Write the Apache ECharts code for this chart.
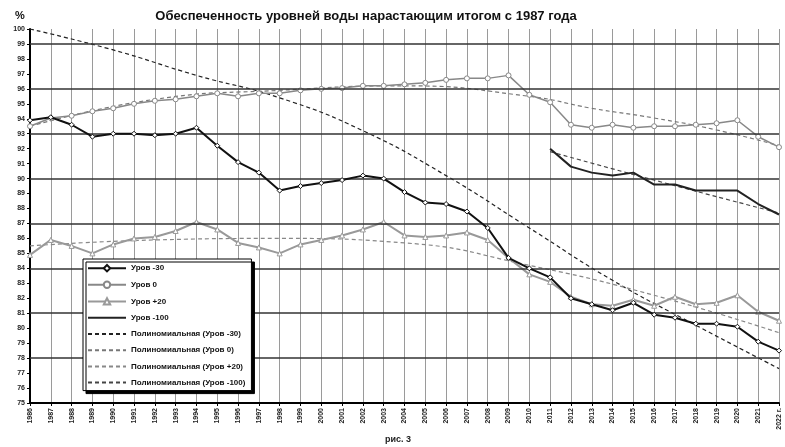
<!DOCTYPE html>
<html>
<head>
<meta charset="utf-8">
<script src="https://cdn.jsdelivr.net/npm/echarts@6/dist/echarts.min.js"></script>
<style>
  html, body { margin: 0; padding: 0; background: #fff; }
  #chart { width: 785px; height: 447px; }
</style>
</head>
<body>
<div id="chart"></div>
<script>
// years on x axis
var years = ['1986','1987','1988','1989','1990','1991','1992','1993','1994','1995',
  '1996','1997','1998','1999','2000','2001','2002','2003','2004','2005','2006',
  '2007','2008','2009','2010','2011','2012','2013','2014','2015','2016','2017',
  '2018','2019','2020','2021','2022'];

// series values, %
var lvlMinus30 = [93.9, 94.1, 93.6, 92.8, 93.0, 93.0, 92.9, 93.0, 93.4, 92.2,
  91.1, 90.4, 89.2, 89.5, 89.7, 89.9, 90.2, 90.0, 89.1, 88.4, 88.3,
  87.8, 86.7, 84.7, 84.0, 83.4, 82.0, 81.6, 81.2, 81.7, 80.9, 80.7,
  80.3, 80.3, 80.1, 79.1, 78.5];
var lvl0 = [93.5, 94.05, 94.2, 94.5, 94.7, 95.0, 95.2, 95.3, 95.5, 95.7,
  95.5, 95.7, 95.7, 95.9, 96.0, 96.05, 96.2, 96.2, 96.3, 96.4, 96.6,
  96.7, 96.7, 96.9, 95.6, 95.1, 93.6, 93.4, 93.6, 93.4, 93.5, 93.5,
  93.6, 93.7, 93.9, 92.8, 92.1];
var lvlPlus20 = [84.9, 85.9, 85.5, 85.0, 85.6, 86.0, 86.1, 86.5, 87.1, 86.6,
  85.7, 85.4, 85.0, 85.6, 85.9, 86.2, 86.6, 87.1, 86.2, 86.1, 86.2,
  86.4, 85.9, 84.7, 83.6, 83.1, 82.1, 81.6, 81.5, 81.9, 81.5, 82.1,
  81.6, 81.7, 82.2, 81.1, 80.5];
var lvlMinus100Years = ['2011','2012','2013','2014','2015','2016','2017','2018','2019','2020','2021','2022'];
var lvlMinus100 = [92.0, 90.8, 90.4, 90.2, 90.4, 89.6, 89.6, 89.2, 89.2, 89.2, 88.3, 87.6];

// trend lines at some years
var trendMinus30Years = ['1986','1990','1994','1998','2002','2006','2010','2014','2018','2022'];
var trendMinus30 = [100.0, 98.6, 96.9, 95.4, 93.2, 90.2, 86.7, 83.2, 80.2, 77.3];
var trend0Years = ['1986','1992','1998','2004','2010','2013','2016','2019','2022'];
var trend0 = [93.5, 95.3, 95.9, 96.2, 95.5, 94.7, 94.05, 93.25, 92.2];
var trendPlus20Years = ['1986','1992','1998','2004','2010','2016','2022'];
var trendPlus20 = [85.5, 85.9, 86.0, 85.7, 84.2, 82.2, 79.7];
var trendMinus100Years = ['2011','2016','2022'];
var trendMinus100 = [91.8, 89.9, 87.7];

// heavy horizontal grid lines
var majorLines = [78, 81, 84, 87, 90, 93, 96, 99];

var names = ['Уров -30', 'Уров 0', 'Уров +20', 'Уров -100',
  'Полиномиальная (Уров -30)', 'Полиномиальная (Уров 0)',
  'Полиномиальная (Уров +20)', 'Полиномиальная (Уров -100)'];

function pairs(xs, ys) {
  return xs.map(function (x, i) { return [x, ys[i]]; });
}

var chart = echarts.init(document.getElementById('chart'));
var font = 'Liberation Sans, Arial, sans-serif';

// legend rows: series without markers get a plain line icon
var legendData = names.map(function (n, i) {
  return i < 3 ? n : { name: n, itemStyle: { opacity: 0 } };
});

chart.setOption({
  animation: false,
  backgroundColor: '#fff',
  title: [
    { text: 'Обеспеченность уровней воды нарастающим итогом с 1987 года', left: 361, textAlign: 'center', top: 5,
      textStyle: { fontFamily: font, fontSize: 13, fontWeight: 'bold', color: '#111' } },
    { text: '%', left: 10, top: 5, textStyle: { fontFamily: font, fontSize: 11, fontWeight: 'bold', color: '#111' } },
    { text: 'рис. 3', left: 380, top: 430, textStyle: { fontFamily: font, fontSize: 9, fontWeight: 'bold', color: '#222' } }
  ],
  legend: {
    orient: 'vertical',
    z: 20,
    left: 83, top: 259,
    itemWidth: 38, itemHeight: 8, itemGap: 8.2,
    padding: [5, 6, 4, 4],
    backgroundColor: '#fff',
    borderColor: '#000', borderWidth: 1,
    shadowColor: '#000', shadowBlur: 0, shadowOffsetX: 3, shadowOffsetY: 3,
    textStyle: { fontFamily: font, fontSize: 8, fontWeight: 'bold', color: '#111' },
    data: legendData
  },
  grid: { left: 30, right: 6, top: 29, bottom: 44 },
  xAxis: {
    type: 'category',
    data: years,
    boundaryGap: false,
    axisLine: { lineStyle: { color: '#000', width: 2 } },
    axisTick: { show: true, alignWithLabel: true, length: 3, lineStyle: { color: '#000' } },
    axisLabel: {
      rotate: 90, interval: 0, margin: 5,
      fontFamily: font, fontSize: 7, fontWeight: 'bold', color: '#222',
      formatter: function (v) { return v === '2022' ? '2022 г.' : v; }
    },
    splitLine: { show: true, interval: 0, lineStyle: { color: '#9a9a9a', width: 1 } }
  },
  yAxis: {
    type: 'value',
    min: 75, max: 100, interval: 1,
    axisLine: { show: true, lineStyle: { color: '#000', width: 2 } },
    axisTick: { show: true, length: 3, lineStyle: { color: '#000' } },
    axisLabel: { margin: 5, fontFamily: font, fontSize: 7, fontWeight: 'bold', color: '#222' },
    splitLine: { show: false }
  },
  series: [
    {
      name: names[0], type: 'line', data: lvlMinus30, z: 5,
      symbol: 'diamond', symbolSize: 5,
      itemStyle: { color: '#fff', borderColor: '#111', borderWidth: 1 },
      lineStyle: { color: '#111', width: 2 },
      markLine: {
        silent: true, symbol: 'none', label: { show: false }, animation: false,
        lineStyle: { color: '#333', width: 1.5, type: 'solid' },
        data: majorLines.map(function (v) { return { yAxis: v }; })
      }
    },
    {
      name: names[1], type: 'line', data: lvl0, z: 4,
      symbol: 'circle', symbolSize: 5,
      itemStyle: { color: '#fff', borderColor: '#888', borderWidth: 1 },
      lineStyle: { color: '#888', width: 1.5 }
    },
    {
      name: names[2], type: 'line', data: lvlPlus20, z: 4,
      symbol: 'triangle', symbolSize: 5,
      itemStyle: { color: '#fff', borderColor: '#999', borderWidth: 1 },
      lineStyle: { color: '#999', width: 2 }
    },
    {
      name: names[3], type: 'line', data: pairs(lvlMinus100Years, lvlMinus100), z: 5,
      symbol: 'none',
      itemStyle: { color: '#222' },
      lineStyle: { color: '#222', width: 2 }
    },
    {
      name: names[4], type: 'line', data: pairs(trendMinus30Years, trendMinus30), smooth: true,
      symbol: 'none', itemStyle: { color: '#222' },
      lineStyle: { color: '#222', width: 1.2, type: [4, 3] }
    },
    {
      name: names[5], type: 'line', data: pairs(trend0Years, trend0), smooth: true,
      symbol: 'none', itemStyle: { color: '#777' },
      lineStyle: { color: '#777', width: 1.2, type: [4, 3] }
    },
    {
      name: names[6], type: 'line', data: pairs(trendPlus20Years, trendPlus20), smooth: true,
      symbol: 'none', itemStyle: { color: '#888' },
      lineStyle: { color: '#888', width: 1.2, type: [4, 3] }
    },
    {
      name: names[7], type: 'line', data: pairs(trendMinus100Years, trendMinus100), smooth: true,
      symbol: 'none', itemStyle: { color: '#444' },
      lineStyle: { color: '#444', width: 1.2, type: [4, 3] }
    }
  ]
});
</script>
</body>
</html>
